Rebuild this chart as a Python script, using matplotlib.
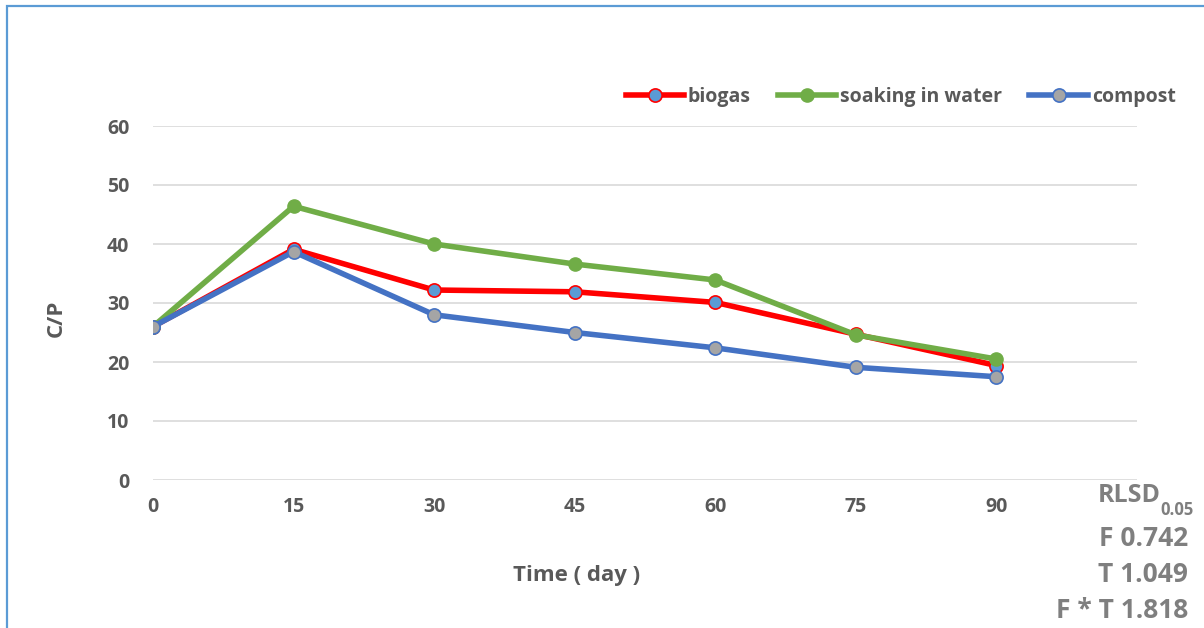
import matplotlib
matplotlib.use("Agg")
import matplotlib.pyplot as plt
from matplotlib.patches import Rectangle

plt.rcParams['font.family'] = ['Open Sans', 'DejaVu Sans']

days = [0, 15, 30, 45, 60, 75, 90]
biogas = [26.0, 39.1, 32.2, 31.9, 30.1, 24.7, 19.4]
soaking = [26.0, 46.4, 40.0, 36.6, 33.9, 24.6, 20.5]
compost = [26.0, 38.7, 28.0, 25.0, 22.4, 19.1, 17.5]
y_ticks = [0, 10, 20, 30, 40, 50, 60]
stats_lines = ["F 0.742", "T 1.049", "F * T 1.818"]

text_color = "#595959"
stat_color = "#7F7F7F"

fig = plt.figure(figsize=(12.04, 6.28), dpi=100)
fig.patches.append(Rectangle((7 / 1204, -0.1), 1.2, 1 - 6 / 628 + 0.1,
                             transform=fig.transFigure, fill=False,
                             edgecolor="#5B9BD5", linewidth=1.6))

ax = fig.add_axes([153 / 1204, 1 - 480 / 628, (1137 - 153) / 1204, (480 - 126) / 628])

ax.plot(days, biogas, color="#FF0000", linewidth=4.0, marker="o", markersize=9.5,
        markerfacecolor="#5B9BD5", markeredgecolor="#FF0000", markeredgewidth=1.2,
        label="biogas", zorder=3)
ax.plot(days, soaking, color="#70AD47", linewidth=4.0, marker="o", markersize=9.5,
        markerfacecolor="#70AD47", markeredgecolor="#70AD47",
        label="soaking in water", zorder=4)
ax.plot(days, compost, color="#4472C4", linewidth=4.0, marker="o", markersize=9.5,
        markerfacecolor="#A5A5A5", markeredgecolor="#4472C4", markeredgewidth=1.2,
        label="compost", zorder=5)

ax.set_xlim(0, 105)
ax.set_ylim(0, 60)
ax.set_xticks(days)
ax.set_yticks(y_ticks)
ax.grid(axis="y", color="#D9D9D9", linewidth=1.2)
ax.set_axisbelow(True)
for s in ax.spines.values():
    s.set_visible(False)
ax.tick_params(length=0, labelsize=14, labelcolor=text_color)
ax.tick_params(axis="x", pad=12)
ax.tick_params(axis="y", pad=17)
for lab in ax.get_xticklabels() + ax.get_yticklabels():
    lab.set_fontweight("bold")

ax.set_xlabel("Time ( day )", fontsize=16, fontweight="bold", color=text_color)
ax.xaxis.set_label_coords((577 - 153) / (1137 - 153), -(575 - 480) / (480 - 126))
ax.xaxis.label.set_va("center")
ax.set_ylabel("C/P", fontsize=16, fontweight="bold", color=text_color)
ax.yaxis.set_label_coords(-(153 - 56) / (1137 - 153), (480 - 318) / (480 - 126))
ax.yaxis.label.set_va("center")

leg = ax.legend(loc="lower right", bbox_to_anchor=(1.057, 1.005), ncol=3, frameon=False,
                handlelength=3.0, handletextpad=0.2, columnspacing=1.4,
                prop={"size": 14, "weight": "bold"})
for t in leg.get_texts():
    t.set_color(text_color)

# significance block: RLSD with a lowered 0.05 subscript, then the three values
fig.text(1161 / 1204, 1 - 496 / 628, "RLSD", ha="right", va="center",
         fontsize=18, fontweight="bold", color=stat_color)
fig.text(1194 / 1204, 1 - 510 / 628, "0.05", ha="right", va="center",
         fontsize=12, fontweight="bold", color=stat_color)
for i, line in enumerate(stats_lines):
    fig.text(1188 / 1204, 1 - (539 + i * 36) / 628, line, ha="right", va="center",
             fontsize=19, fontweight="bold", color=stat_color)

fig.savefig("out.png", dpi=100)
